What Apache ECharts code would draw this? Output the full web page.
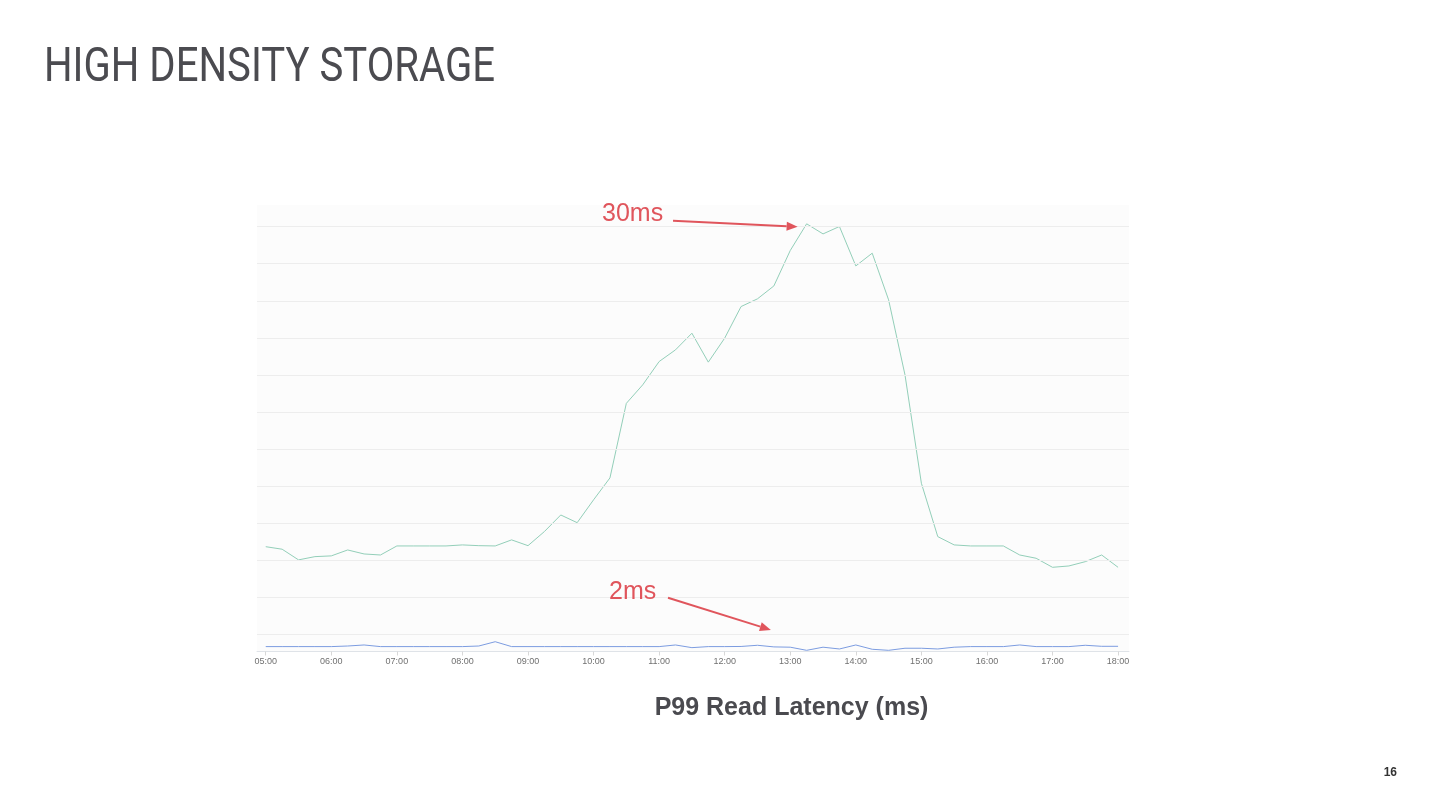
<!DOCTYPE html>
<html><head><meta charset="utf-8">
<script src="https://cdn.jsdelivr.net/npm/echarts@6/dist/echarts.min.js"></script>
<style>html,body{margin:0;padding:0;background:#fff}#c{width:1440px;height:810px}</style>
</head><body><div id="c"></div>
<script>
// ---- data ----
const times = ['05:00','05:15','05:30','05:45','06:00','06:15','06:30','06:45','07:00','07:15','07:30','07:45',
  '08:00','08:15','08:30','08:45','09:00','09:15','09:30','09:45','10:00','10:15','10:30','10:45',
  '11:00','11:15','11:30','11:45','12:00','12:15','12:30','12:45','13:00','13:15','13:30','13:45',
  '14:00','14:15','14:30','14:45','15:00','15:15','15:30','15:45','16:00','16:15','16:30','16:45',
  '17:00','17:15','17:30','17:45','18:00'];
const latencyGreen = [8.41,8.24,7.52,7.74,7.79,8.19,7.92,7.85,8.46,8.46,8.46,8.46,
  8.53,8.48,8.46,8.87,8.48,9.43,10.55,10.03,11.57,13.05,18.08,19.33,
  20.90,21.69,22.81,20.86,22.48,24.61,25.13,26.00,28.39,30.19,29.51,30.01,
  27.35,28.21,25.06,20.00,12.69,9.09,8.53,8.46,8.46,8.46,7.85,7.63,
  7.02,7.11,7.40,7.85,7.02];
const latencyBlue = [1.67,1.67,1.67,1.67,1.67,1.71,1.78,1.67,1.67,1.67,1.67,1.67,
  1.67,1.71,2.00,1.67,1.67,1.67,1.67,1.67,1.67,1.67,1.67,1.67,
  1.67,1.78,1.60,1.67,1.67,1.68,1.76,1.65,1.63,1.42,1.63,1.51,
  1.78,1.49,1.42,1.56,1.56,1.51,1.63,1.67,1.67,1.67,1.78,1.67,
  1.67,1.67,1.76,1.69,1.69];
const hourLabels = ['05:00','06:00','07:00','08:00','09:00','10:00','11:00','12:00','13:00','14:00','15:00','16:00','17:00','18:00'];
const gridValues = [2.5,5,7.5,10,12.5,15,17.5,20,22.5,25,27.5,30];
const xMinTime = '04:52', xMaxTime = '18:10';
const yMin = 1.34, yMax = 31.46;
const pageTitle = 'HIGH DENSITY STORAGE';
const chartCaption = 'P99 Read Latency (ms)';
const pageNumber = '16';
const peakNote = '30ms', lowNote = '2ms';

// ---- helpers ----
function toMin(s){ const [h,m] = s.split(':').map(Number); return h*60+m; }
function pad(n){ return (n<10?'0':'')+n; }
function fmt(v){ v = Math.round(v); return pad(Math.floor(v/60))+':'+pad(v%60); }

const titleFont = '400 49px Roboto, "Liberation Sans", sans-serif';
const cv = document.createElement('canvas').getContext('2d');
cv.font = titleFont;
const titleScale = 451 / cv.measureText(pageTitle).width;

const chart = echarts.init(document.getElementById('c'), null, {renderer:'canvas'});
const hourVals = hourLabels.map(toMin);
const option = {
  backgroundColor: '#ffffff',
  animation: false,
  grid: { left: 257, right: 311, top: 205, bottom: 158.5, show: true, backgroundColor: '#fcfcfc', borderWidth: 0 },
  xAxis: {
    type: 'value', min: toMin(xMinTime), max: toMin(xMaxTime),
    axisLine: { onZero: false, lineStyle: { color: '#dfe3e8', width: 1 } },
    axisTick: { show: true, length: 4, lineStyle: { color: '#d8d8d8' }, customValues: hourVals },
    axisLabel: { color: '#707070', fontSize: 9, fontFamily: 'Liberation Sans, Arial, sans-serif', margin: 6,
      customValues: hourVals, formatter: fmt },
    splitLine: { show: false }
  },
  yAxis: { type: 'value', min: yMin, max: yMax, show: false, splitLine: { show: false } },
  series: [
    { type: 'line', data: [], silent: true, z: 1,
      markLine: { silent: true, symbol: ['none','none'], label: { show: false },
        lineStyle: { color: '#ededed', type: 'solid', width: 1 },
        data: gridValues.map(v => ({ yAxis: v })) } },
    { type: 'line', name: 'green', data: times.map((t,i) => [toMin(t), latencyGreen[i]]),
      symbol: 'none', z: 3, lineStyle: { color: '#93cfb9', width: 1 }, itemStyle: { color: '#93cfb9' } },
    { type: 'line', name: 'blue', data: times.map((t,i) => [toMin(t), latencyBlue[i]]),
      symbol: 'none', z: 3, lineStyle: { color: '#7c9ce0', width: 1 }, itemStyle: { color: '#7c9ce0' } }
  ]
};
chart.setOption(option);

// annotations anchored to data points
const red = '#e0555c';
function px(t, v){ return chart.convertToPixel({xAxisIndex:0, yAxisIndex:0}, [toMin(t), v]); }
function arrow(S, E){
  const dx = E[0]-S[0], dy = E[1]-S[1], L = Math.hypot(dx,dy), ux = dx/L, uy = dy/L, nx = -uy, ny = ux;
  const hl = 11, hw = 4.5;
  const B = [E[0]-ux*hl, E[1]-uy*hl];
  return [
    { type: 'line', silent: true, z: 100, shape: { x1: S[0], y1: S[1], x2: B[0], y2: B[1] }, style: { stroke: red, lineWidth: 2 } },
    { type: 'polygon', silent: true, z: 100, shape: { points: [E, [B[0]+nx*hw, B[1]+ny*hw], [B[0]-nx*hw, B[1]-ny*hw]] }, style: { fill: red } }
  ];
}
const peakIdx = latencyGreen.indexOf(Math.max(...latencyGreen));
const P = px(times[peakIdx], latencyGreen[peakIdx]);
const peakEnd = [P[0]-9, P[1]+3];
const lowIdx = times.indexOf('12:45');
const Q = px(times[lowIdx], latencyBlue[lowIdx]);
const lowEnd = [Q[0]-3, Q[1]-17];

chart.setOption({
  graphic: [
    { type: 'text', x: 44, y: 69, scaleX: titleScale, silent: true, z: 100,
      style: { text: pageTitle, font: titleFont, fill: '#4b4b50', align: 'left', verticalAlign: 'middle' } },
    { type: 'text', x: 791.5, y: 708, silent: true, z: 100,
      style: { text: chartCaption, font: 'bold 25px "Liberation Sans", Arial, sans-serif', fill: '#4a4a4f', align: 'center', verticalAlign: 'middle' } },
    { type: 'text', x: 1397, y: 773, silent: true, z: 100,
      style: { text: pageNumber, font: 'bold 12px "Liberation Sans", Arial, sans-serif', fill: '#333333', align: 'right', verticalAlign: 'middle' } },
    { type: 'text', x: 602, y: 214, silent: true, z: 100,
      style: { text: peakNote, font: '25px "Liberation Sans", Arial, sans-serif', fill: red, align: 'left', verticalAlign: 'middle' } },
    { type: 'text', x: 609, y: 592, silent: true, z: 100,
      style: { text: lowNote, font: '25px "Liberation Sans", Arial, sans-serif', fill: red, align: 'left', verticalAlign: 'middle' } },
    ...arrow([673, 220.7], peakEnd),
    ...arrow([668, 597.7], lowEnd)
  ]
});
</script>
</body></html>
